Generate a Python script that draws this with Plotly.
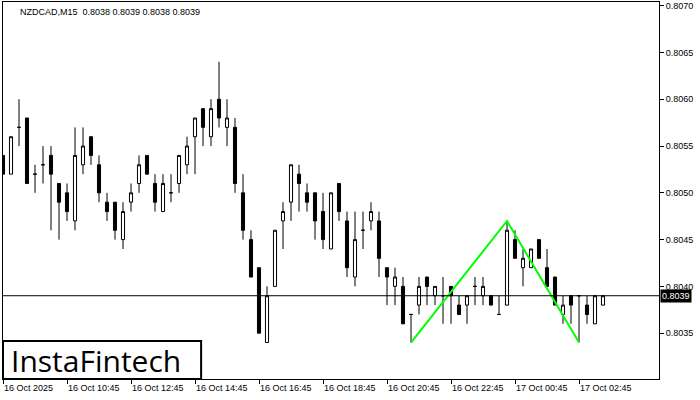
import plotly.graph_objects as go

# ---- data ----
opens = [0.8054, 0.8052, 0.8057, 0.8058, 0.8052, 0.8053, 0.8054, 0.8051, 0.8050, 0.8047,
         0.8053, 0.8056, 0.8053, 0.8049, 0.8049, 0.8045, 0.8049, 0.8051, 0.8054, 0.8051,
         0.8048, 0.8050, 0.8051, 0.8053, 0.8056, 0.8059, 0.8056, 0.8060, 0.8057, 0.8057,
         0.8050, 0.8045, 0.8042, 0.8034, 0.8040, 0.8047, 0.8049, 0.8052, 0.8050, 0.8050,
         0.8048, 0.8044, 0.8051, 0.8047, 0.8041, 0.8046, 0.8047, 0.8047, 0.8042, 0.8040,
         0.8040, 0.8037, 0.8038, 0.8041, 0.8039, 0.8039, 0.8040, 0.8038, 0.8038, 0.8040,
         0.8039, 0.8039, 0.8037, 0.8038, 0.8045, 0.8042, 0.8042, 0.8045, 0.8042, 0.8041,
         0.8037, 0.8039, 0.8039, 0.8038, 0.8036, 0.8038]
highs = [0.8054, 0.8056, 0.8060, 0.8058, 0.8053, 0.8055, 0.8055, 0.8051, 0.8051, 0.8057,
         0.8057, 0.8056, 0.8054, 0.8050, 0.8049, 0.8049, 0.8051, 0.8054, 0.8054, 0.8052,
         0.8052, 0.8052, 0.8054, 0.8056, 0.8058, 0.8059, 0.8060, 0.8064, 0.8060, 0.8058,
         0.8052, 0.8046, 0.8042, 0.8040, 0.8046, 0.8049, 0.8053, 0.8053, 0.8051, 0.8050,
         0.8050, 0.8050, 0.8051, 0.8048, 0.8048, 0.8048, 0.8049, 0.8048, 0.8042, 0.8042,
         0.8041, 0.8037, 0.8041, 0.8041, 0.8040, 0.8041, 0.8040, 0.8039, 0.8039, 0.8041,
         0.8041, 0.8039, 0.8039, 0.8047, 0.8046, 0.8044, 0.8044, 0.8045, 0.8044, 0.8041,
         0.8039, 0.8039, 0.8039, 0.8039, 0.8039, 0.8039]
lows = [0.8052, 0.8052, 0.8055, 0.8051, 0.8050, 0.8051, 0.8046, 0.8045, 0.8047, 0.8046,
        0.8052, 0.8053, 0.8049, 0.8047, 0.8045, 0.8044, 0.8048, 0.8050, 0.8052, 0.8048,
        0.8048, 0.8049, 0.8050, 0.8052, 0.8052, 0.8055, 0.8055, 0.8057, 0.8055, 0.8050,
        0.8045, 0.8041, 0.8035, 0.8034, 0.8040, 0.8044, 0.8047, 0.8048, 0.8048, 0.8045,
        0.8044, 0.8044, 0.8047, 0.8041, 0.8040, 0.8044, 0.8046, 0.8041, 0.8038, 0.8038,
        0.8036, 0.8034, 0.8037, 0.8038, 0.8038, 0.8036, 0.8036, 0.8037, 0.8036, 0.8038,
        0.8038, 0.8038, 0.8037, 0.8038, 0.8043, 0.8040, 0.8042, 0.8043, 0.8040, 0.8038,
        0.8036, 0.8036, 0.8034, 0.8036, 0.8036, 0.8038]
closes = [0.8052, 0.8056, 0.8057, 0.8051, 0.8052, 0.8053, 0.8052, 0.8049, 0.8048, 0.8054,
          0.8055, 0.8054, 0.8050, 0.8048, 0.8046, 0.8048, 0.8050, 0.8053, 0.8052, 0.8049,
          0.8051, 0.8050, 0.8054, 0.8055, 0.8058, 0.8057, 0.8059, 0.8058, 0.8058, 0.8051,
          0.8046, 0.8041, 0.8035, 0.8039, 0.8046, 0.8048, 0.8053, 0.8051, 0.8049, 0.8047,
          0.8045, 0.8050, 0.8048, 0.8042, 0.8045, 0.8046, 0.8048, 0.8043, 0.8041, 0.8041,
          0.8036, 0.8037, 0.8040, 0.8040, 0.8040, 0.8039, 0.8039, 0.8037, 0.8039, 0.8040,
          0.8040, 0.8038, 0.8037, 0.8046, 0.8043, 0.8043, 0.8044, 0.8043, 0.8040, 0.8038,
          0.8038, 0.8038, 0.8039, 0.8037, 0.8039, 0.8039]

tick_index = [0, 8, 16, 24, 32, 40, 48, 56, 64, 72]
tick_labels = ["16 Oct 2025", "16 Oct 10:45", "16 Oct 12:45", "16 Oct 14:45", "16 Oct 16:45",
               "16 Oct 18:45", "16 Oct 20:45", "16 Oct 22:45", "17 Oct 00:45", "17 Oct 02:45"]

pattern_index = [51, 63, 72]
pattern_price = [0.8034, 0.8047, 0.8034]

current_price = 0.8039
y_ticks = [0.8035, 0.8040, 0.8045, 0.8050, 0.8055, 0.8060, 0.8065, 0.8070]
title_text = "NZDCAD,M15  0.8038 0.8039 0.8038 0.8039"

FONT = "Liberation Sans"
idx = list(range(len(opens)))

fig = go.Figure()
fig.add_trace(go.Candlestick(
    x=idx, open=opens, high=highs, low=lows, close=closes,
    increasing=dict(fillcolor="white", line=dict(color="black", width=1)),
    decreasing=dict(fillcolor="black", line=dict(color="black", width=1)),
    whiskerwidth=0, showlegend=False, hoverinfo="skip"))

fig.add_trace(go.Scatter(x=pattern_index, y=pattern_price, mode="lines",
                         line=dict(color="#00ff00", width=2), showlegend=False,
                         hoverinfo="skip"))

fig.add_shape(type="line", xref="paper", x0=0, x1=1, yref="y",
              y0=current_price, y1=current_price, line=dict(color="black", width=1))

# logo box
fig.add_shape(type="rect", xref="paper", yref="paper", x0=0, x1=0.302, y0=0, y1=0.101,
              fillcolor="white", line=dict(color="black", width=2), layer="above")
fig.add_annotation(xref="paper", yref="paper", x=0.1425, y=0.05, text="InstaFintech",
                   showarrow=False, font=dict(family="Open Sans", size=30, color="black"),
                   xanchor="center", yanchor="middle")

fig.add_annotation(xref="paper", yref="paper", x=0.023, y=1, yshift=-3,
                   text=title_text, showarrow=False, xanchor="left", yanchor="top",
                   font=dict(family=FONT, size=9, color="#000000"))

fig.add_annotation(xref="paper", yref="y", x=1, y=current_price, xanchor="left",
                   xshift=1, text=f"{current_price:.4f}", showarrow=False,
                   bgcolor="black", font=dict(family=FONT, size=9, color="white"),
                   borderpad=1)

fig.update_layout(
    width=700, height=400,
    margin=dict(l=3, r=41, t=2, b=21),
    paper_bgcolor="white", plot_bgcolor="white",
    boxgap=0.45,
    font=dict(family=FONT, size=9, color="black"),
    xaxis=dict(range=[0, 82.0], tickvals=tick_index, ticktext=tick_labels,
               ticks="outside", ticklen=4, tickcolor="black",
               ticklabelposition="outside right",
               showgrid=False, zeroline=False, showline=True, linecolor="black",
               linewidth=1, mirror=True, rangeslider=dict(visible=False),
               tickfont=dict(family=FONT, size=9)),
    yaxis=dict(range=[0.80301, 0.80704], side="right", tickvals=y_ticks,
               tickformat=".4f", ticks="outside", ticklen=4, tickcolor="black",
               showgrid=False, zeroline=False, showline=True, linecolor="black",
               linewidth=1, mirror=True, tickfont=dict(family=FONT, size=9)),
)

fig.write_html("out.html", config={"displayModeBar": False},
               post_script="document.body.style.margin='0';")
